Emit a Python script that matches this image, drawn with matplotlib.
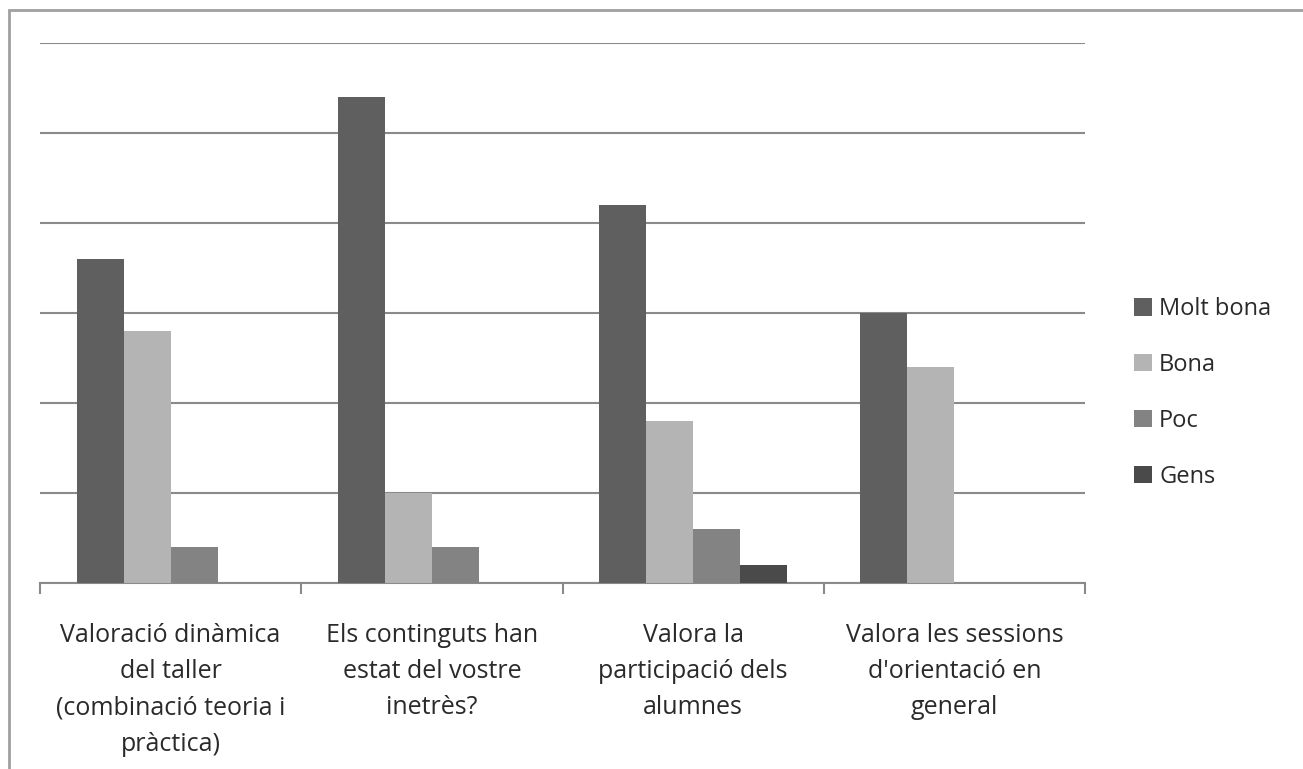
import matplotlib.pyplot as plt
import numpy as np
from matplotlib.patches import Rectangle

categories = ['Valoració dinàmica\ndel taller\n(combinació teoria i\npràctica)',
              'Els continguts han\nestat del vostre\ninetrès?',
              'Valora la\nparticipació dels\nalumnes',
              'Valora les sessions\nd\'orientació en\ngeneral']
series = ['Molt bona', 'Bona', 'Poc', 'Gens']
molt_bona = [18, 27, 21, 15]
bona = [14, 5, 9, 12]
poc = [2, 2, 3, 0]
gens = [0, 0, 1, 0]
colors = ['#5f5f5f', '#b4b4b4', '#838383', '#4a4a4a']

plt.rcParams['font.family'] = ['Open Sans', 'DejaVu Sans']

W, H = 1303, 769
fig = plt.figure(figsize=(W / 100, H / 100), dpi=100)
ax = fig.add_axes([40 / W, 1 - 583 / H, 1045 / W, 540 / H])

# outer chart border (cut off right and bottom like the screenshot)
fig.patches.append(Rectangle((9 / W, -0.1), 1.2, 1 - 10 / H + 0.1,
                             transform=fig.transFigure, fill=False,
                             edgecolor='#a0a0a0', linewidth=2))

x = np.arange(len(categories))
width = 0.18
values = [molt_bona, bona, poc, gens]
for i, (name, vals) in enumerate(zip(series, values)):
    ax.bar(x - 0.27 + i * width, vals, width, color=colors[i], label=name,
           zorder=3)

ax.set_xlim(-0.5, 3.5)
ax.set_ylim(0, 30)
ax.set_yticks(np.arange(0, 31, 5))
ax.yaxis.grid(True, color='#8a8a8a', linewidth=1.5, zorder=0)
ax.tick_params(axis='y', left=False, labelleft=False)

ax.set_xticks(np.arange(-0.5, 3.6, 1), minor=False)
ax.set_xticklabels([])
ax.tick_params(axis='x', direction='out', length=8, color='#8a8a8a',
               width=1.5)
for xi, cat in zip(x, categories):
    ax.text(xi, -2.2, cat, ha='center', va='top', fontsize=18,
            color='#2a2a2a', linespacing=1.6)

for s in ['top', 'right', 'left']:
    ax.spines[s].set_visible(False)
ax.spines['bottom'].set_color('#8a8a8a')
ax.spines['bottom'].set_linewidth(1.5)

leg = fig.legend(loc='center left', bbox_to_anchor=(1113 / W, 1 - 393 / H),
                 frameon=False, fontsize=17, handlelength=0.75,
                 handleheight=0.75, handletextpad=0.3, labelspacing=1.35)
for t in leg.get_texts():
    t.set_color('#2a2a2a')

fig.savefig('out.png', dpi=100)
